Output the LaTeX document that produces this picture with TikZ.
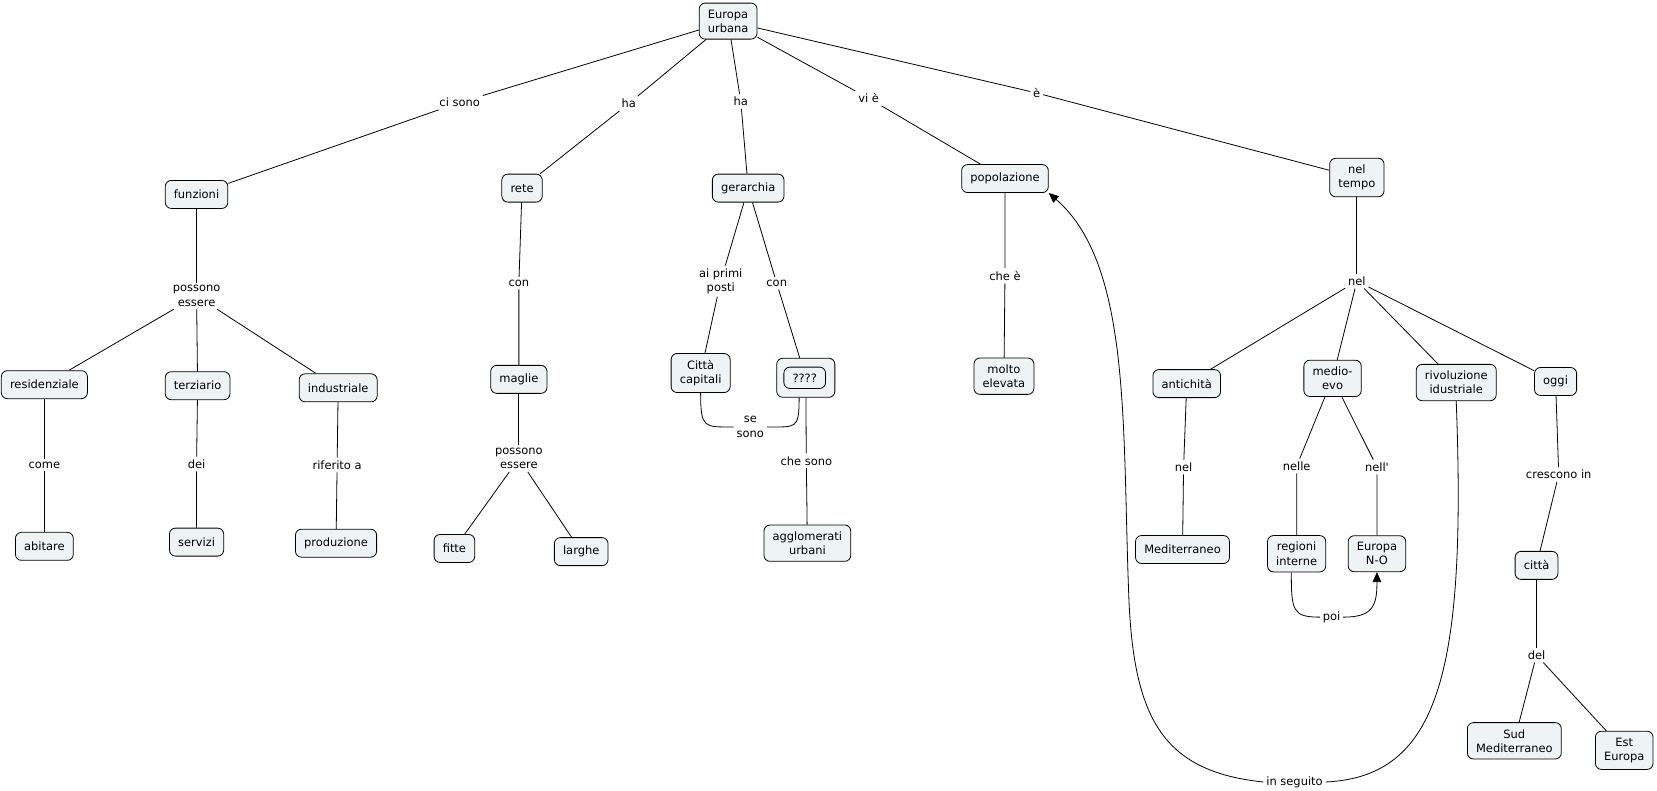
\documentclass[tikz,border=0pt]{standalone}
\usepackage{fontspec}
\setmainfont{DejaVu Sans}
\usepackage{xcolor}
\usetikzlibrary{arrows.meta}

\definecolor{cmapfill}{RGB}{238,243,245}

\tikzset{
    concept/.style={draw, line width=0.6pt, rounded corners=4.5pt, fill=cmapfill, align=center,
        inner xsep=6.5pt, inner ysep=5pt, minimum height=21pt, font=\fontsize{8.6}{10.6}\selectfont},
    phrase/.style={align=center, inner sep=2pt, font=\fontsize{8.6}{10.6}\selectfont},
    conn/.style={draw, line width=0.6pt},
    connarrow/.style={conn, -{Triangle[length=7.5pt,width=6.5pt]}},
}

\begin{document}
\begin{tikzpicture}[x=0.7926pt,y=-0.7926pt]
    \useasboundingbox (0,0) rectangle (1568,748);

    % Concepts
    \node [concept] (europa) at (689,20) {Europa\\urbana};
    \node [concept] (funzioni) at (186,184) {funzioni};
    \node [concept] (rete) at (494,178) {rete};
    \node [concept] (gerarchia) at (708,178) {gerarchia};
    \node [concept] (popolazione) at (951,169) {popolazione};
    \node [concept] (neltempo) at (1284,168) {nel\\tempo};
    \node [concept] (residenziale) at (42,364) {residenziale};
    \node [concept] (terziario) at (187,365) {terziario};
    \node [concept] (industriale) at (320,367) {industriale};
    \node [concept] (abitare) at (42,517) {abitare};
    \node [concept] (servizi) at (186,513) {servizi};
    \node [concept] (produzione) at (318,514) {produzione};
    \node [concept] (maglie) at (491,359) {maglie};
    \node [concept] (fitte) at (430,519) {fitte};
    \node [concept] (larghe) at (550,522) {larghe};
    \node [concept] (capitali) at (663,353) {Città\\capitali};
    \node [concept, minimum width=43.6pt, minimum height=29.3pt] (gruppo) at (762.5,357.5) {};
    \node [concept, minimum height=16pt, inner ysep=2pt] (ignoti) at (761.5,357.5) {????};
    \node [concept] (agglomerati) at (764,514) {agglomerati\\urbani};
    \node [concept] (elevata) at (950,356) {molto\\elevata};
    \node [concept] (antichita) at (1123,363) {antichità};
    \node [concept] (medioevo) at (1261,358) {medio-\\evo};
    \node [concept] (rivoluzione) at (1378,362) {rivoluzione\\idustriale};
    \node [concept] (oggi) at (1472,361) {oggi};
    \node [concept] (mediterraneo) at (1119,520) {Mediterraneo};
    \node [concept] (regioni) at (1227,524) {regioni\\interne};
    \node [concept] (europano) at (1303,524) {Europa\\N-O};
    \node [concept] (citta) at (1454,535) {città};
    \node [concept] (sudmed) at (1433,701) {Sud\\Mediterraneo};
    \node [concept] (esteuropa) at (1537,710) {Est\\Europa};

    % Linking phrases
    \node [phrase] (cisono) at (435,97) {ci sono};
    \node [phrase] (ha1) at (595,98) {ha};
    \node [phrase] (ha2) at (701,96) {ha};
    \node [phrase] (vie) at (822,93) {vi è};
    \node [phrase] (e) at (981,88) {è};
    \node [phrase] (possono1) at (186,280) {possono\\essere};
    \node [phrase] (con1) at (491,268) {con};
    \node [phrase] (primi) at (682,266) {ai primi\\posti};
    \node [phrase] (con2) at (735,268) {con};
    \node [phrase] (chee) at (951,261) {che è};
    \node [phrase] (nel1) at (1284,266) {nel};
    \node [phrase] (come) at (42,440) {come};
    \node [phrase] (dei) at (186,439) {dei};
    \node [phrase] (riferito) at (319,440) {riferito a};
    \node [phrase] (possono2) at (491,434) {possono\\essere};
    \node [phrase] (sesono) at (710,404) {se\\sono};
    \node [phrase] (chesono) at (763,436) {che sono};
    \node [phrase] (nel2) at (1120,442) {nel};
    \node [phrase] (nelle) at (1227,441) {nelle};
    \node [phrase] (nell) at (1303,442) {nell\textquotesingle};
    \node [phrase] (crescono) at (1475,449) {crescono in};
    \node [phrase] (poi) at (1260,584) {poi};
    \node [phrase] (del) at (1454,620) {del};
    \node [phrase] (seguito) at (1225,740) {in seguito};

    % Connection
    \draw [conn] (europa) -- (cisono) -- (funzioni);
    \draw [conn] (europa) -- (ha1) -- (rete);
    \draw [conn] (europa) -- (ha2) -- (gerarchia);
    \draw [conn] (europa) -- (vie) -- (popolazione);
    \draw [conn] (europa) -- (e) -- (neltempo);
    % Connection
    \draw [conn] (funzioni) -- (possono1);
    \draw [conn] (possono1) -- (residenziale);
    \draw [conn] (possono1) -- (terziario);
    \draw [conn] (possono1) -- (industriale);
    \draw [conn] (residenziale) -- (come) -- (abitare);
    \draw [conn] (terziario) -- (dei) -- (servizi);
    \draw [conn] (industriale) -- (riferito) -- (produzione);
    % Connection
    \draw [conn] (rete) -- (con1) -- (maglie);
    \draw [conn] (maglie) -- (possono2);
    \draw [conn] (possono2) -- (fitte);
    \draw [conn] (possono2) -- (larghe);
    % Connection
    \draw [conn] (gerarchia) -- (primi) -- (capitali);
    \draw [conn] (gerarchia) -- (con2) -- (gruppo);
    \draw [conn] (gruppo) -- (chesono) -- (agglomerati);
    \draw [conn] (capitali.south) .. controls +(0,34) and +(-28,0) .. (sesono.west);
    \draw [conn] (sesono.east) .. controls +(28,0) and +(0,30) .. ([xshift=-5pt]gruppo.south);
    % Connection
    \draw [conn] (popolazione) -- (chee) -- (elevata);
    % Connection
    \draw [conn] (neltempo) -- (nel1);
    \draw [conn] (nel1) -- (antichita);
    \draw [conn] (nel1) -- (medioevo);
    \draw [conn] (nel1) -- (rivoluzione);
    \draw [conn] (nel1) -- (oggi);
    \draw [conn] (antichita) -- (nel2) -- (mediterraneo);
    \draw [conn] (medioevo) -- (nelle) -- (regioni);
    \draw [conn] (medioevo) -- (nell) -- (europano);
    \draw [conn] ([xshift=-4pt]regioni.south) .. controls +(0,36) and +(-26,0) .. (poi.west);
    \draw [connarrow] (poi.east) .. controls +(28,0) and +(0,32) .. (europano.south);
    \draw [conn] (oggi) -- (crescono) -- (citta);
    \draw [conn] (citta) -- (del);
    \draw [conn] (del) -- (sudmed);
    \draw [conn] (del) -- (esteuropa);
    % Connection
    \draw [conn] (rivoluzione.south) .. controls (1388,640) and (1360,735) .. (seguito.east);
    \draw [connarrow] (seguito.west) .. controls (1100,730) and (1072,680) .. (1068,560)
        .. controls (1062,400) and (1070,250) .. (popolazione.south east);

\end{tikzpicture}
\end{document}
